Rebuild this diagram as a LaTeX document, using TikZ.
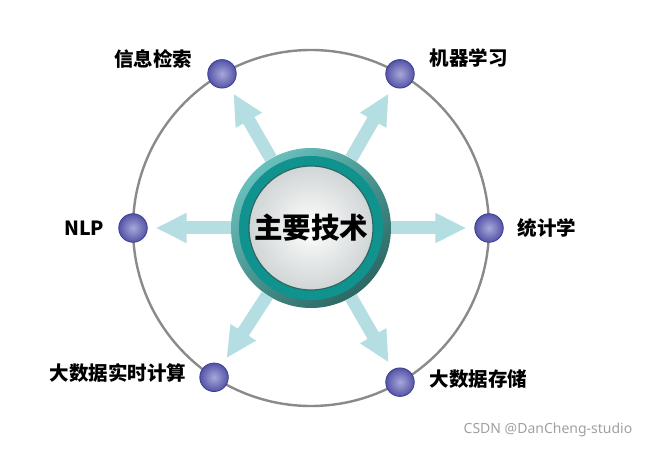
\documentclass[tikz,border=0pt]{standalone}
\usepackage{fontspec}
\newfontfamily\cjk{Noto Sans CJK SC}
\newfontfamily\wmfont{Noto Sans}
\usepackage{tikz}
\usetikzlibrary{arrows.meta,positioning,calc}
\usepackage{xcolor}
\definecolor{spokeblue}{RGB}{180,222,225}
\definecolor{orbitgrey}{RGB}{138,138,138}
\definecolor{dotblue}{RGB}{84,84,168}
\definecolor{dotrim}{RGB}{60,60,145}
\definecolor{dotlight}{RGB}{168,168,218}
\definecolor{teallight}{RGB}{104,192,188}
\definecolor{tealdark}{RGB}{44,104,100}
\definecolor{tealband}{RGB}{16,146,142}
\definecolor{hubgrey}{RGB}{208,213,213}
\definecolor{wmgrey}{RGB}{160,160,160}

\begin{document}
\begin{tikzpicture}[x=1pt, y=1pt,
    ring/.style={circle, minimum size=160pt, inner sep=0pt,
                 top color=teallight, bottom color=tealdark, shading angle=40},
    band/.style={circle, minimum size=144pt, inner sep=0pt, fill=tealband},
    hub/.style={circle, minimum size=124pt, inner sep=0pt, draw=tealdark, line width=1.2pt,
                inner color=white, outer color=hubgrey, font=\cjk\bfseries\fontsize{28.5}{30}\selectfont},
    dot/.style={circle, minimum size=28.5pt, inner sep=0pt, draw=dotrim, line width=0.8pt,
                inner color=dotlight, outer color=dotblue},
    lbl/.style={inner sep=0pt, font=\cjk\bfseries\fontsize{19.5}{21}\selectfont},
    spoke/.style={-{Triangle[length=31pt,width=28pt]}, line width=13pt, draw=spokeblue, shorten >=8pt}
]
\useasboundingbox (0,0) rectangle (649,448);

% orbit and centre
\coordinate (c) at (311,220);
\draw[orbitgrey, line width=2.4pt] (c) circle (178);
\node[ring] (ctr) at (c) {};

% topic dots on the orbit
\node[dot] (d1) at ($(c)+(120:178)$) {};
\node[dot] (d2) at ($(c)+(60:178)$) {};
\node[dot] (d3) at ($(c)+(180:178)$) {};
\node[dot] (d4) at ($(c)+(0:178)$) {};
\node[dot] (d5) at ($(c)+(237:178)$) {};
\node[dot] (d6) at ($(c)+(300:178)$) {};

% spokes
\draw[spoke] (ctr) -- (d1);
\draw[spoke] (ctr) -- (d2);
\draw[spoke] (ctr) -- (d3);
\draw[spoke] (ctr) -- (d4);
\draw[spoke] (ctr) -- (d5);
\draw[spoke] (ctr) -- (d6);

\node[band] (ctrband) at (c) {};
\node[hub] (hubtext) at (c) {主要技术};

% labels
\node[lbl, left=15pt of d1, yshift=15pt] (l1) {信息检索};
\node[lbl, right=15pt of d2, yshift=16pt] (l2) {机器学习};
\node[lbl, left=14pt of d3] (l3) {NLP};
\node[lbl, right=14pt of d4] (l4) {统计学};
\node[lbl, left=13pt of d5, yshift=4pt] (l5) {大数据实时计算};
\node[lbl, right=15pt of d6, yshift=3pt] (l6) {大数据存储};

\node[inner sep=0pt, text=wmgrey, font=\wmfont\fontsize{14}{16}\selectfont] (wm) at (548,18) {CSDN @DanCheng-studio};
\end{tikzpicture}
\end{document}
